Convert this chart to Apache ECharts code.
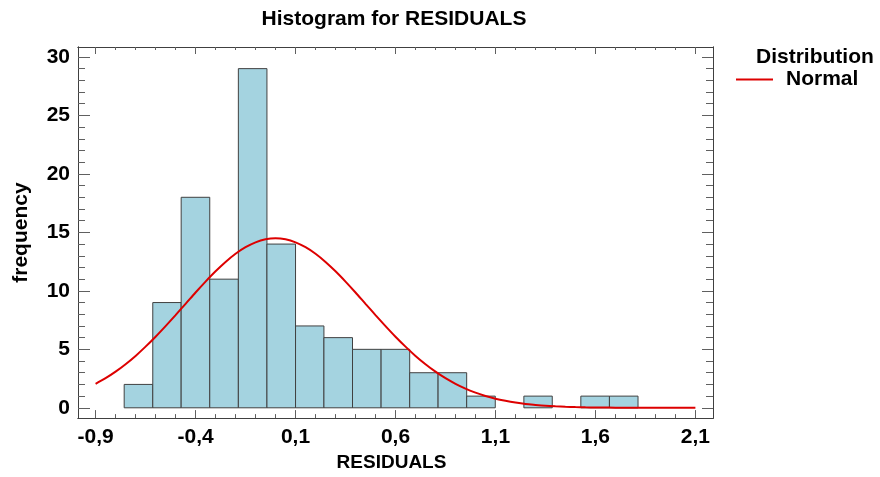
<!DOCTYPE html>
<html>
<head>
<meta charset="utf-8">
<script src="https://cdn.jsdelivr.net/npm/echarts@6/dist/echarts.min.js"></script>
<style>
  html, body { margin: 0; padding: 0; background: #fff; }
  #chart { width: 880px; height: 477px; }
</style>
</head>
<body>
<div id="chart"></div>
<script>
// histogram classes (edges) and their counts
var binEdges = [-0.757, -0.614, -0.472, -0.329, -0.186, -0.043, 0.100, 0.242, 0.385,
  0.528, 0.671, 0.813, 0.956, 1.099, 1.242, 1.384, 1.527, 1.670, 1.813];
var counts = [2, 9, 18, 11, 29, 14, 7, 6, 5, 5, 3, 3, 1, 0, 1, 0, 1, 1];

// fitted normal curve
var curveX = [-0.9, -0.85, -0.8, -0.75, -0.7, -0.65, -0.6, -0.55, -0.5, -0.45, -0.4, -0.35, -0.3,
  -0.25, -0.2, -0.15, -0.1, -0.05, 0.0, 0.05, 0.1, 0.15, 0.2, 0.25, 0.3, 0.35, 0.4, 0.45, 0.5,
  0.55, 0.6, 0.65, 0.7, 0.75, 0.8, 0.85, 0.9, 0.95, 1.0, 1.05, 1.1, 1.15, 1.2, 1.25, 1.3, 1.35,
  1.4, 1.45, 1.5, 1.55, 1.6, 1.65, 1.7, 1.75, 1.8, 1.85, 1.9, 1.95, 2.0, 2.05, 2.1];
var curveY = [2.05, 2.53, 3.09, 3.73, 4.44, 5.23, 6.08, 6.99, 7.93, 8.89, 9.86, 10.79, 11.67,
  12.47, 13.17, 13.73, 14.15, 14.41, 14.5, 14.41, 14.15, 13.73, 13.17, 12.47, 11.67, 10.79, 9.86, 8.89, 7.93,
  6.99, 6.08, 5.23, 4.44, 3.73, 3.09, 2.53, 2.05, 1.64, 1.30, 1.01, 0.78, 0.60, 0.45, 0.33, 0.25, 0.18,
  0.13, 0.09, 0.06, 0.04, 0.03, 0.02, 0.01, 0.01, 0.0, 0.0, 0.0, 0.0, 0.0, 0.0, 0.0];

// axis ticks
var xMajor = [-0.9, -0.4, 0.1, 0.6, 1.1, 1.6, 2.1];
var xMinor = [-0.8, -0.7, -0.6, -0.5, -0.3, -0.2, -0.1, 0.0, 0.2, 0.3, 0.4, 0.5, 0.7, 0.8, 0.9, 1.0,
  1.2, 1.3, 1.4, 1.5, 1.7, 1.8, 1.9, 2.0];
var yMajor = [0, 5, 10, 15, 20, 25, 30];
var yMinor = [1, 2, 3, 4, 6, 7, 8, 9, 11, 12, 13, 14, 16, 17, 18, 19, 21, 22, 23, 24, 26, 27, 28, 29, 30];

var X_MIN = -0.988, X_MAX = 2.188;
var Y_MIN = -0.88, Y_MAX = 30.85;
var FONT = 'Liberation Sans';

var histData = [];
for (var i = 0; i < counts.length; i++) {
  if (counts[i] > 0) histData.push([binEdges[i], binEdges[i + 1], counts[i]]);
}
var curveData = curveX.map(function (x, i) { return [x, curveY[i]]; });

function xAxisDef(pos, ticks, len, withLabels) {
  var a = {
    type: 'value', position: pos, min: X_MIN, max: X_MAX,
    axisLine: { show: true, onZero: false, lineStyle: { color: '#404040', width: 1 } },
    axisTick: { show: true, inside: true, length: len, customValues: ticks, lineStyle: { color: '#606060' } },
    axisLabel: { show: false },
    splitLine: { show: false }
  };
  if (withLabels) {
    a.axisLabel = {
      show: true, customValues: ticks, margin: 9,
      color: '#000', fontSize: 21, fontWeight: 'bold', fontFamily: FONT,
      formatter: function (v) { return (Math.round(v * 10) / 10).toFixed(1).replace('.', ','); }
    };
    a.name = 'RESIDUALS';
    a.nameLocation = 'middle';
    a.nameGap = 31;
    a.nameTextStyle = { color: '#000', fontSize: 19, fontWeight: 'bold', fontFamily: FONT, padding: [0, 8, 0, 0] };
  }
  return a;
}

function yAxisDef(pos, ticks, len, withLabels) {
  var a = {
    type: 'value', position: pos, min: Y_MIN, max: Y_MAX,
    axisLine: { show: true, onZero: false, lineStyle: { color: '#404040', width: 1 } },
    axisTick: { show: true, inside: true, length: len, customValues: ticks, lineStyle: { color: '#606060' } },
    axisLabel: { show: false },
    splitLine: { show: false }
  };
  if (withLabels) {
    a.axisLabel = {
      show: true, customValues: ticks, margin: 8,
      color: '#000', fontSize: 21, fontWeight: 'bold', fontFamily: FONT
    };
    a.name = 'frequency';
    a.nameLocation = 'middle';
    a.nameRotate = 90;
    a.nameGap = 46;
    a.nameTextStyle = { color: '#000', fontSize: 21, fontWeight: 'bold', fontFamily: FONT };
  }
  return a;
}

var chart = echarts.init(document.getElementById('chart'));
chart.setOption({
  animation: false,
  textStyle: { fontFamily: FONT },
  title: [
    {
      text: 'Histogram for RESIDUALS', left: 394, top: 9, textAlign: 'center', padding: 0,
      textStyle: { color: '#000', fontSize: 21, fontWeight: 'bold', fontFamily: FONT }
    },
    {
      text: 'Distribution', left: 756, top: 47, padding: 0,
      textStyle: { color: '#000', fontSize: 21, fontWeight: 'bold', fontFamily: FONT }
    }
  ],
  legend: {
    left: 736, top: 69, padding: 0,
    icon: 'rect', itemWidth: 37, itemHeight: 2,
    data: [{ name: 'Normal', itemStyle: { color: '#dd0000' } }],
    textStyle: { color: '#000', fontSize: 21, fontWeight: 'bold', fontFamily: FONT, padding: [0, 0, 0, 8] }
  },
  grid: { left: 78, right: 167, top: 47, bottom: 58 },
  xAxis: [
    xAxisDef('bottom', xMajor, 8, true),
    xAxisDef('bottom', xMinor, 4, false),
    xAxisDef('top', xMajor, 7, false),
    xAxisDef('top', xMinor, 3, false)
  ],
  yAxis: [
    yAxisDef('left', yMajor, 12, true),
    yAxisDef('left', yMinor, 7, false),
    yAxisDef('right', yMajor, 11, false),
    yAxisDef('right', yMinor, 7, false)
  ],
  series: [
    {
      name: 'RESIDUALS',
      type: 'custom',
      xAxisIndex: 0, yAxisIndex: 0,
      z: 2,
      encode: { x: [0, 1], y: 2 },
      renderItem: function (params, api) {
        var p0 = api.coord([api.value(0), 0]);
        var p1 = api.coord([api.value(1), api.value(2)]);
        return {
          type: 'rect',
          shape: { x: p0[0], y: p1[1], width: p1[0] - p0[0], height: p0[1] - p1[1] },
          style: { fill: '#a4d3e0', stroke: '#404040', lineWidth: 1 }
        };
      },
      data: histData
    },
    {
      name: 'Normal',
      type: 'line',
      xAxisIndex: 0, yAxisIndex: 0,
      z: 3,
      smooth: 0.3,
      symbol: 'none',
      lineStyle: { color: '#dd0000', width: 2 },
      data: curveData
    }
  ]
});
</script>
</body>
</html>
